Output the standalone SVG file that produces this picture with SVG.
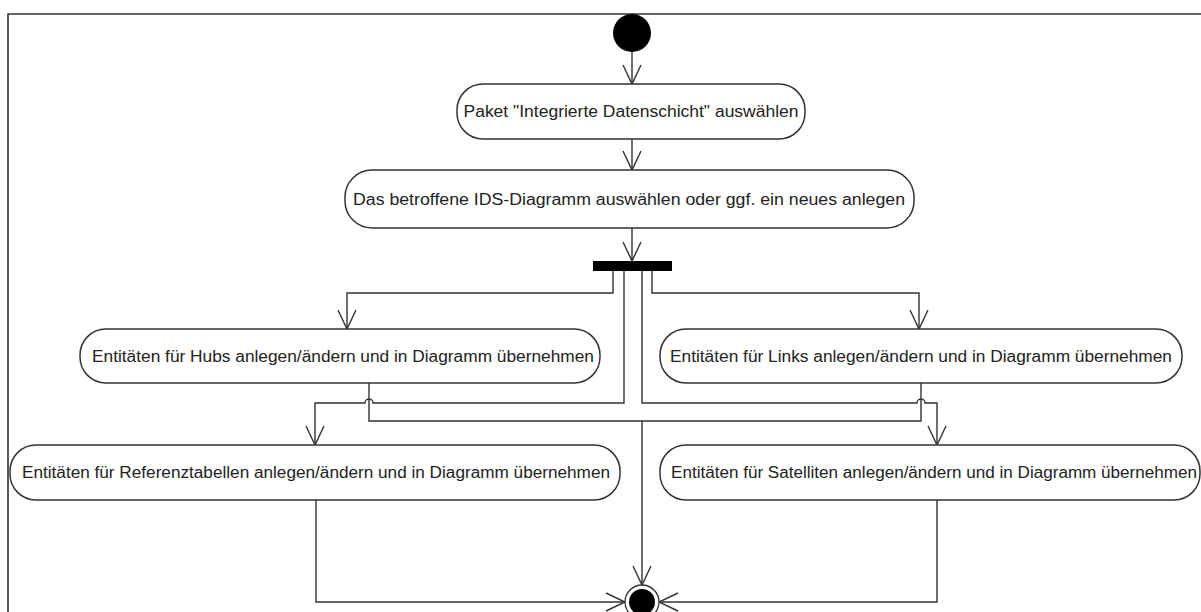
<svg xmlns="http://www.w3.org/2000/svg" width="1201" height="612" viewBox="0 0 1201 612">
  <style>
    .frame { fill: none; stroke: #333; stroke-width: 1.6; }
    .action rect { fill: #fff; stroke: #333; stroke-width: 1.5; }
    .action text { font-family: "Liberation Sans", Arial, sans-serif; font-size: 16px; fill: #222; text-anchor: middle; }
    .flow { fill: none; stroke: #333; stroke-width: 1.4; }
    .arrow { marker-end: url(#open); }
  </style>
  <defs>
    <marker id="open" markerUnits="userSpaceOnUse" markerWidth="24" markerHeight="22" refX="20" refY="10" orient="auto">
      <path d="M1,1 L20,10 L1,19" fill="none" stroke="#333" stroke-width="1.4"/>
    </marker>
  </defs>

  <rect width="1201" height="612" fill="#fff"/>
  <!-- diagram frame -->
  <path class="frame" d="M1201,14 H8 V612"/>

  <!-- connectors -->
  <g id="connectors">
    <path class="flow arrow" d="M632,52 V84"/>
    <path class="flow arrow" d="M632,139 V170"/>
    <path class="flow arrow" d="M632,228 V261"/>
    <path class="flow arrow" d="M613,271 V293 H347 V329"/>
    <path class="flow arrow" d="M652,271 V293 H919 V329"/>
    <path class="flow arrow" d="M624,271 V403 H373 a4,4 0 0 0 -8,0 H315 V445"/>
    <path class="flow arrow" d="M642,271 V403 H917 a4,4 0 0 1 8,0 H937 V445"/>
    <path class="flow" d="M369,383 V421 H921 V383"/>
    <path class="flow arrow" d="M642,421 V585"/>
    <path class="flow arrow" d="M316,500 V602 H625"/>
    <path class="flow arrow" d="M937,500 V602 H659"/>
  </g>

  <!-- initial node -->
  <g id="start">
    <circle cx="632" cy="33" r="19" fill="#000"/>
  </g>

  <g id="paket" class="action">
    <rect x="457" y="84" width="348" height="55" rx="26" ry="26"/>
    <text x="631" y="117" textLength="335" lengthAdjust="spacingAndGlyphs">Paket "Integrierte Datenschicht" auswählen</text>
  </g>

  <g id="diagramm" class="action">
    <rect x="345" y="170" width="569" height="58" rx="27" ry="27"/>
    <text x="629" y="205" textLength="552" lengthAdjust="spacingAndGlyphs">Das betroffene IDS-Diagramm auswählen oder ggf. ein neues anlegen</text>
  </g>

  <!-- fork bar -->
  <g id="fork">
    <rect x="593" y="261" width="79" height="10" fill="#000"/>
  </g>

  <g id="hubs" class="action">
    <rect x="80" y="329" width="520" height="54" rx="26" ry="26"/>
    <text x="343" y="362" textLength="502" lengthAdjust="spacingAndGlyphs">Entitäten für Hubs anlegen/ändern und in Diagramm übernehmen</text>
  </g>

  <g id="links" class="action">
    <rect x="660" y="329" width="522" height="54" rx="26" ry="26"/>
    <text x="921" y="362" textLength="502" lengthAdjust="spacingAndGlyphs">Entitäten für Links anlegen/ändern und in Diagramm übernehmen</text>
  </g>

  <g id="referenztabellen" class="action">
    <rect x="10" y="445" width="610" height="55" rx="26" ry="26"/>
    <text x="316" y="478" textLength="588" lengthAdjust="spacingAndGlyphs">Entitäten für Referenztabellen anlegen/ändern und in Diagramm übernehmen</text>
  </g>

  <g id="satelliten" class="action">
    <rect x="660" y="445" width="540" height="55" rx="26" ry="26"/>
    <text x="934" y="478" textLength="526" lengthAdjust="spacingAndGlyphs">Entitäten für Satelliten anlegen/ändern und in Diagramm übernehmen</text>
  </g>

  <!-- final node -->
  <g id="end">
    <circle cx="642" cy="602" r="17" fill="#fff" stroke="#333" stroke-width="1.4"/>
    <circle cx="642" cy="602" r="13" fill="#000"/>
  </g>
</svg>
